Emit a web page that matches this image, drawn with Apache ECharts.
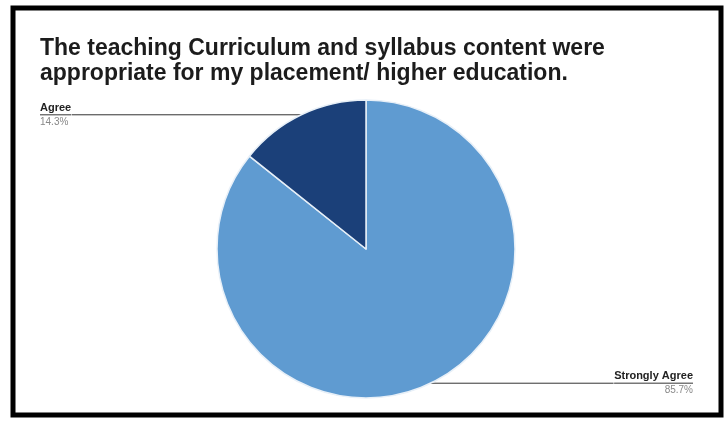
<!DOCTYPE html>
<html>
<head>
<meta charset="utf-8">
<script src="https://cdn.jsdelivr.net/npm/echarts@6/dist/echarts.min.js"></script>
<style>
html,body{margin:0;padding:0;background:#fff;}
#main{width:728px;height:421px;}
</style>
</head>
<body>
<div id="main"></div>
<script>
const titleText = 'The teaching Curriculum and syllabus content were\nappropriate for my placement/ higher education.';
const categories = ['Strongly Agree', 'Agree'];
const values = [85.7, 14.3];
const colors = ['#5f9bd1', '#1b4079'];

const chart = echarts.init(document.getElementById('main'), null, {renderer: 'canvas'});
const data = categories.map((c, i) => ({
  name: c,
  value: values[i],
  itemStyle: {color: colors[i]},
  label: {edgeDistance: i === 0 ? 35 : 40}
}));

chart.setOption({
  backgroundColor: '#fff',
  animation: false,
  title: {
    text: titleText,
    left: 40,
    top: 36,
    padding: 0,
    textStyle: {
      fontFamily: 'Liberation Sans, Arial, sans-serif',
      fontSize: 23,
      fontWeight: 'bold',
      color: '#1c1c1c',
      lineHeight: 25
    }
  },
  graphic: [{
    type: 'rect',
    shape: {x: 13, y: 8, width: 708, height: 407},
    style: {fill: 'none', stroke: '#000', lineWidth: 5},
    silent: true
  }],
  series: [{
    type: 'pie',
    center: [366, 249],
    radius: 149,
    startAngle: 90,
    clockwise: true,
    avoidLabelOverlap: true,
    emphasis: {disabled: true},
    itemStyle: {borderColor: '#e8f0f8', borderWidth: 1.5},
    label: {
      show: true,
      alignTo: 'edge',
      distanceToLabelLine: 0,
      fontFamily: 'Liberation Sans, Arial, sans-serif',
      formatter: p => '{name|' + p.name + '}\n{hr|}\n{pct|' + p.value + '%}',
      rich: {
        name: {fontSize: 11, fontWeight: 'bold', color: '#222', lineHeight: 14, fontFamily: 'Liberation Sans, Arial, sans-serif'},
        hr: {borderColor: '#333', width: '100%', borderWidth: 0.6, height: 0},
        pct: {fontSize: 10, color: '#888', lineHeight: 14, fontFamily: 'Liberation Sans, Arial, sans-serif'}
      }
    },
    labelLine: {
      show: true,
      length: 0,
      length2: 10,
      lineStyle: {color: '#333', width: 1}
    },
    data: data
  }]
});
</script>
</body>
</html>
